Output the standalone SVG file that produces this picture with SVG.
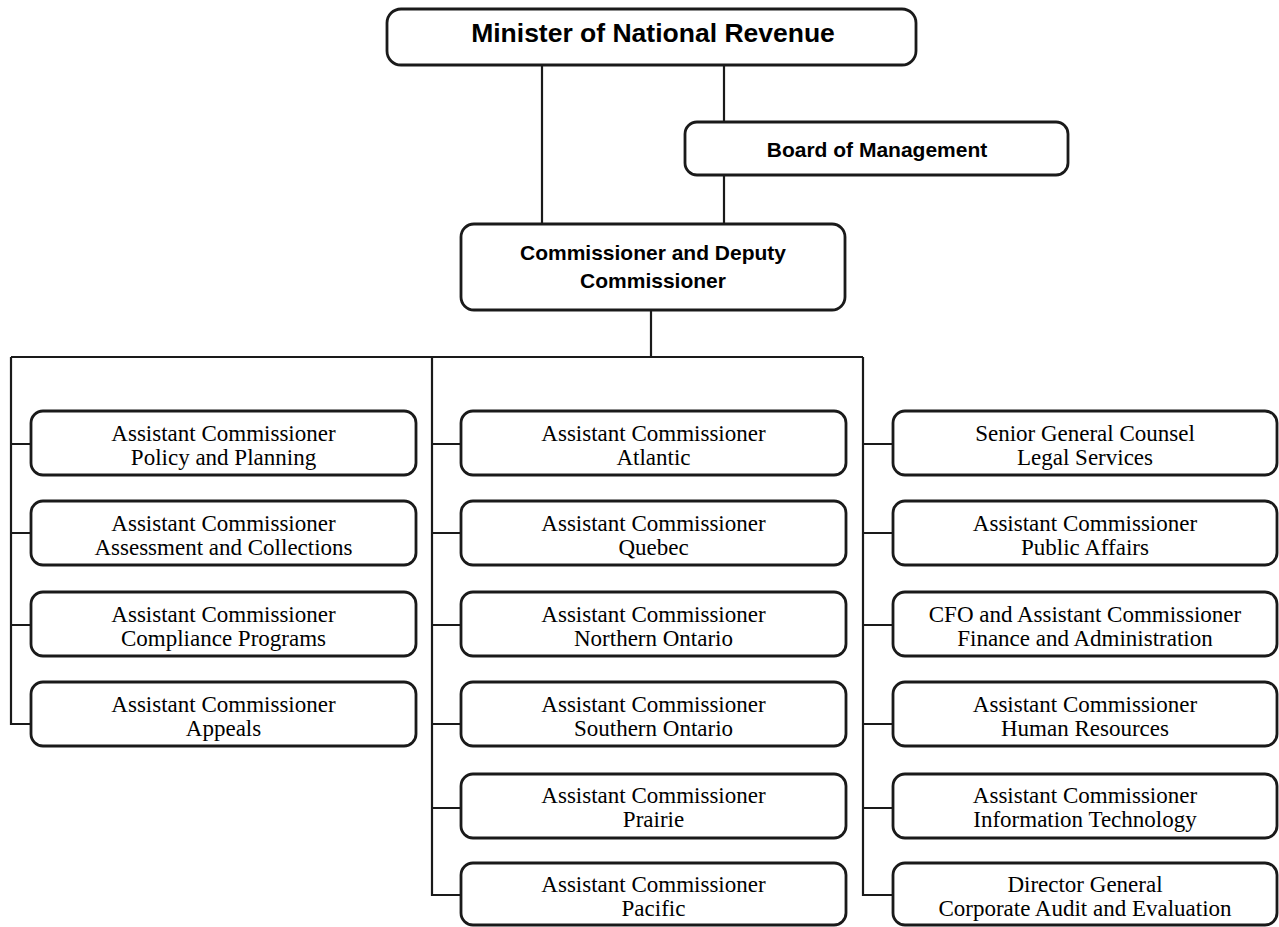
<svg xmlns="http://www.w3.org/2000/svg" width="1279" height="927" viewBox="0 0 1279 927">
<style>
.box{fill:#fff;stroke:#1a1a1a;stroke-width:2.8}
.ln{fill:none;stroke:#1a1a1a;stroke-width:2.2}
.hb{font-family:"Liberation Sans",Arial,sans-serif;font-weight:bold;fill:#000;text-anchor:middle}
.t{font-family:"Liberation Serif","Times New Roman",serif;font-size:23px;fill:#000;text-anchor:middle}
</style>
<rect width="1279" height="927" fill="#fff"/>
<g id="connectors">
<path class="ln" d="M542 65V224M724 65V122M724 175V224M651 310V357M11 357H863"/>
<path class="ln" d="M11 357V724H31M11 444H31M11 533H31M11 625H31"/>
<path class="ln" d="M432 357V895H461M432 444H461M432 533H461M432 625H461M432 724H461M432 808H461"/>
<path class="ln" d="M863 357V895H893M863 444H893M863 533H893M863 625H893M863 724H893M863 808H893"/>
</g>
<g id="minister"><rect class="box" x="387" y="9" width="529" height="56" rx="14"/><text class="hb" x="653" y="42" font-size="26.5">Minister of National Revenue</text></g>
<g id="board"><rect class="box" x="685" y="122" width="383" height="53" rx="12"/><text class="hb" x="877" y="157" font-size="21">Board of Management</text></g>
<g id="commissioner"><rect class="box" x="461" y="224" width="384" height="86" rx="13"/><text class="hb" x="653" y="260" font-size="21">Commissioner and Deputy</text><text class="hb" x="653" y="288" font-size="21">Commissioner</text></g>
<g id="l1"><rect class="box" x="31" y="411" width="385" height="64" rx="12"/><text class="t" x="223.5" y="441">Assistant Commissioner</text><text class="t" x="223.5" y="465">Policy and Planning</text></g>
<g id="l2"><rect class="box" x="31" y="501" width="385" height="64" rx="12"/><text class="t" x="223.5" y="531">Assistant Commissioner</text><text class="t" x="223.5" y="555">Assessment and Collections</text></g>
<g id="l3"><rect class="box" x="31" y="592" width="385" height="64" rx="12"/><text class="t" x="223.5" y="622">Assistant Commissioner</text><text class="t" x="223.5" y="646">Compliance Programs</text></g>
<g id="l4"><rect class="box" x="31" y="682" width="385" height="64" rx="12"/><text class="t" x="223.5" y="712">Assistant Commissioner</text><text class="t" x="223.5" y="736">Appeals</text></g>
<g id="m1"><rect class="box" x="461" y="411" width="385" height="64" rx="12"/><text class="t" x="653.5" y="441">Assistant Commissioner</text><text class="t" x="653.5" y="465">Atlantic</text></g>
<g id="m2"><rect class="box" x="461" y="501" width="385" height="64" rx="12"/><text class="t" x="653.5" y="531">Assistant Commissioner</text><text class="t" x="653.5" y="555">Quebec</text></g>
<g id="m3"><rect class="box" x="461" y="592" width="385" height="64" rx="12"/><text class="t" x="653.5" y="622">Assistant Commissioner</text><text class="t" x="653.5" y="646">Northern Ontario</text></g>
<g id="m4"><rect class="box" x="461" y="682" width="385" height="64" rx="12"/><text class="t" x="653.5" y="712">Assistant Commissioner</text><text class="t" x="653.5" y="736">Southern Ontario</text></g>
<g id="m5"><rect class="box" x="461" y="774" width="385" height="64" rx="12"/><text class="t" x="653.5" y="803">Assistant Commissioner</text><text class="t" x="653.5" y="827">Prairie</text></g>
<g id="m6"><rect class="box" x="461" y="863" width="385" height="62" rx="12"/><text class="t" x="653.5" y="892">Assistant Commissioner</text><text class="t" x="653.5" y="916">Pacific</text></g>
<g id="r1"><rect class="box" x="893" y="411" width="384" height="64" rx="12"/><text class="t" x="1085" y="441">Senior General Counsel</text><text class="t" x="1085" y="465">Legal Services</text></g>
<g id="r2"><rect class="box" x="893" y="501" width="384" height="64" rx="12"/><text class="t" x="1085" y="531">Assistant Commissioner</text><text class="t" x="1085" y="555">Public Affairs</text></g>
<g id="r3"><rect class="box" x="893" y="592" width="384" height="64" rx="12"/><text class="t" x="1085" y="622">CFO and Assistant Commissioner</text><text class="t" x="1085" y="646">Finance and Administration</text></g>
<g id="r4"><rect class="box" x="893" y="682" width="384" height="64" rx="12"/><text class="t" x="1085" y="712">Assistant Commissioner</text><text class="t" x="1085" y="736">Human Resources</text></g>
<g id="r5"><rect class="box" x="893" y="774" width="384" height="64" rx="12"/><text class="t" x="1085" y="803">Assistant Commissioner</text><text class="t" x="1085" y="827">Information Technology</text></g>
<g id="r6"><rect class="box" x="893" y="863" width="384" height="62" rx="12"/><text class="t" x="1085" y="892">Director General</text><text class="t" x="1085" y="916">Corporate Audit and Evaluation</text></g>
</svg>
